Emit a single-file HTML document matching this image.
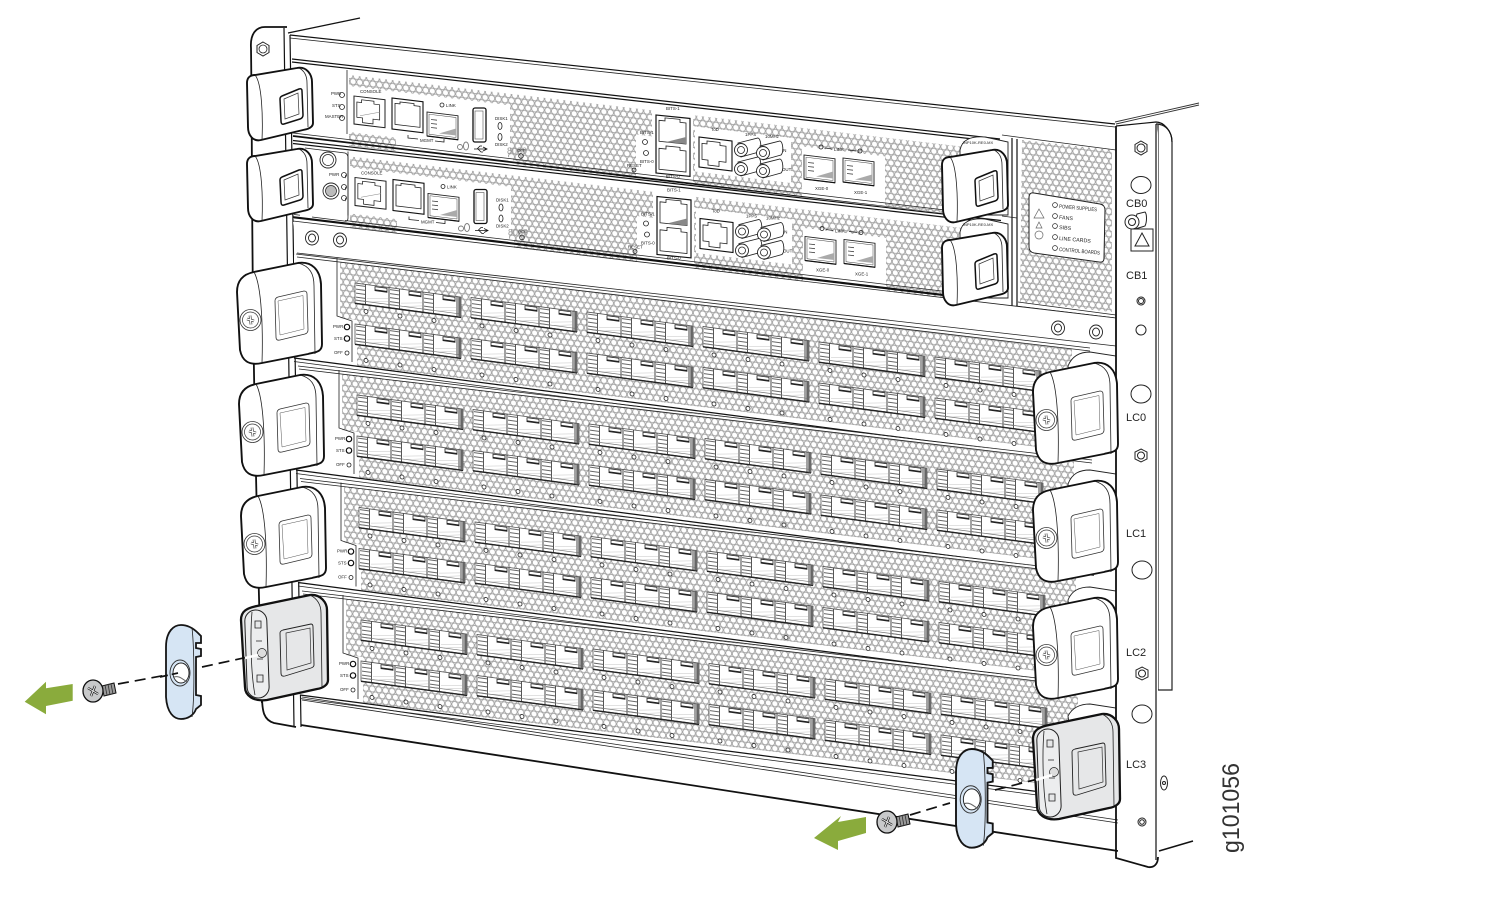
<!DOCTYPE html>
<html><head><meta charset="utf-8"><style>
html,body{margin:0;padding:0;background:#fff}
svg{display:block}
text{font-family:"Liberation Sans",sans-serif;fill:#222}
.t{font-size:4.4px}
.n{font-size:11px;fill:#222}
.l{fill:none;stroke:#222;stroke-width:.8}
.d{fill:none;stroke:#111;stroke-width:1.8}
.m{fill:none;stroke:#111;stroke-width:1.2}
.g{fill:none;stroke:#777;stroke-width:.7}
.w{fill:#fff;stroke:none}
</style></head><body>
<svg xmlns="http://www.w3.org/2000/svg" width="1501" height="901" viewBox="0 0 1501 901">
<defs>
<pattern id="hc" width="6.6" height="11.2" patternUnits="userSpaceOnUse" patternTransform="matrix(1,.12,0,1,0,0)">
<rect width="6.6" height="11.2" fill="#fff"/>
<g fill="none" stroke="#a2a2a2" stroke-width=".85">
<circle cx="0" cy="0" r="3"/><circle cx="6.6" cy="0" r="3"/><circle cx="3.3" cy="5.6" r="3"/><circle cx="0" cy="11.2" r="3"/><circle cx="6.6" cy="11.2" r="3"/>
</g></pattern>

<g id="port">
<path d="M1,2H10M1,6H10M1,10H10M1,14H10M1,17H10" stroke="#666" stroke-width="1" fill="none"/>
<path d="M10.500,0V20" stroke="#444" stroke-width=".9"/>
<path d="M20,1H32V5H20Z" fill="#fff" stroke="#222" stroke-width=".8"/>
<path d="M20,4.300H32" stroke="#222" stroke-width="1.200"/>
<path d="M12,14L33,11M15,17L33,14" stroke="#c4c4c4" stroke-width=".5"/>
<path d="M34,0V20" stroke="#444" stroke-width="1"/>
</g>
<g id="pg">
<rect x="0" y="0" width="106" height="20" fill="#fff" stroke="#555" stroke-width=".8"/>
<use href="#port"/><use href="#port" x="34"/><use href="#port" x="68"/>
<path d="M0,17H104" stroke="#777" stroke-width=".7"/>
<path d="M0,20.300H106" stroke="#222" stroke-width="1.400"/>
<path d="M104.500,0V20" stroke="#666" stroke-width="2.400"/>
</g>
<g id="cs"><circle cx="0" cy="0" r="2" fill="#fff" stroke="#222" stroke-width=".8"/></g>
<g id="gup"><use href="#pg"/><use href="#cs" x="11" y="27"/><use href="#cs" x="45" y="27"/><use href="#cs" x="79" y="27"/></g>
<g id="glo"><use href="#pg"/><use href="#cs" x="11" y="35"/><use href="#cs" x="45" y="35"/><use href="#cs" x="79" y="35"/></g>
<g id="pair"><use href="#gup"/><use href="#glo" y="41"/></g>

<g id="card">
<path d="M294,255L1095,349L1095,458L1040,458L294,358Z" fill="#fff"/>
<path d="M340,262L1072,349V451L357,366V320L340,318Z" fill="url(#hc)"/>
<path class="l" d="M296,254L1090,348M297,257L1090,351"/>
<path class="l" d="M337,258V316L352,321V362"/>
<path class="m" d="M294,358L1050,457"/>
<path class="l" d="M294,361.500L1050,460.500"/>
<g transform="matrix(1,.133,0,1,355,283)"><use href="#pair"/></g>
<g transform="matrix(1,.133,0,1,471,297.500)"><use href="#pair"/></g>
<g transform="matrix(1,.133,0,1,587,312)"><use href="#pair"/></g>
<g transform="matrix(1,.133,0,1,703,326.500)"><use href="#pair"/></g>
<g transform="matrix(1,.133,0,1,819,342)"><use href="#pair"/></g>
<g transform="matrix(1,.133,0,1,935,357)"><use href="#pair"/></g>
<text class="t" x="333" y="328">PWR</text><circle cx="347" cy="327" r="2.700" class="m" fill="#fff"/>
<text class="t" x="334" y="340">STS</text><circle cx="347" cy="338.500" r="2.700" class="m" fill="#fff"/>
<text class="t" x="334" y="354">OFF</text><circle cx="347" cy="353" r="2" class="l" fill="#fff"/>
</g>

<g id="hl">
<path d="M1,30C1,18 8,12 18,10L62,1C76,-1 84,8 85,22L86,82C86,90 80,90 72,92L26,101C12,104 6,98 4,88Z" fill="#fff" stroke="#111" stroke-width="1.900"/>
<path class="l" d="M18,10C26,24 27,70 26,101M62,1C74,4 78,12 78,24L79,92" stroke-width=".7"/>
<path d="M42,35L68,29Q71,29 71,32L72,68Q72,71 69,72L44,78Q40,79 40,75L39,39Q39,36 42,35Z" fill="#fff" stroke="#333" stroke-width=".8"/>
<path d="M42,39L67,33.500L68,67L44,73Z" fill="none" stroke="#555" stroke-width=".5"/>
<circle cx="14.500" cy="58" r="10.500" fill="#fff" stroke="#333" stroke-width=".8"/>
<circle cx="14.500" cy="58" r="8" fill="#fff" stroke="#333" stroke-width=".7"/>
<path d="M11,57L18,59M14,53.500L15,62.500" stroke="#333" stroke-width="2.600"/>
<path d="M11,57L18,59M14,53.500L15,62.500" stroke="#fff" stroke-width="1.300"/>
</g>

<g id="hs">
<path d="M0,16C0,10 4,8 8,8L50,1C60,-1 65,8 65,15L66,56C66,60 62,62 56,63L14,73C6,75 1,68 1,60Z" fill="#fff" stroke="#111" stroke-width="1.900"/>
<path class="l" d="M8,8C15,16 16,50 15,73M52,1C58,4 60,10 60,16L61,60"/>
<path d="M35,29L52,22Q55,21 55,24L56,48Q56,51 53,52L37,57Q34,58 34,54L33,32Q33,30 35,29Z" fill="#fff" stroke="#111" stroke-width="1.500"/>
<path d="M37,32L51,26L52,47L38,52Z" fill="#fff" stroke="#333" stroke-width=".7"/>
</g>

<g id="hg">
<path d="M0,25C0,16 6,13 16,11L69,0C80,-1 86,8 86,15L87,85C87,90 82,93 76,94L26,105C12,107 4,100 4,92Z" fill="#e6e7e8" stroke="#111" stroke-width="2.300"/>
<path class="l" d="M69,0C77,4 80,10 80,18L81,92"/>
<rect x="5" y="15" width="22" height="88" rx="11" ry="11" fill="#ecedee" stroke="#222" stroke-width="1" transform="rotate(-2 16 60)"/>
<path class="l" d="M11,17C9,40 10,80 14,100"/>
<path d="M14,26H20V33H14ZM15,46H21M16,64H22M16,80H22V87H16Z" fill="#e6e7e8" stroke="#222" stroke-width=".8"/>
<circle cx="21" cy="58" r="4.500" fill="#ddd" stroke="#222" stroke-width=".7"/>
<path d="M42,35L70,29Q72,29 72,32L73,70Q73,72 70,73L44,81Q40,82 40,78L39,38Q39,36 42,35Z" fill="#e6e7e8" stroke="#222" stroke-width=".9"/>
<path d="M45,38L69,33L70,68L46,75Z" fill="#e6e7e8" stroke="#333" stroke-width=".7"/>
</g>

<g id="cv">
<path d="M0,22C0,6 8,0 15,0C22,0 28,4 32,8L35,11V18H30V23L35,24V31L30,32V70L35,71V80L30,84C28,90 22,94 15,94C8,94 1,88 0,72Z" fill="#d6e5f4" stroke="#151515" stroke-width="1.800"/>
<path class="l" d="M26,3C28,20 29,70 26,92"/>
<ellipse cx="14" cy="48" rx="10" ry="13" fill="#d6e5f4" stroke="#333" stroke-width=".9"/>
<ellipse cx="15" cy="48" rx="8" ry="10" fill="#fff" stroke="#222" stroke-width=".9"/>
<path d="M8,52C14,50 18,56 22,57" stroke="#666" fill="none" stroke-width="1"/>
</g>

<g id="sc">
<path d="M12,-4L24,-7L26,3L14,6Z" fill="#999" stroke="#111" stroke-width="1"/>
<path d="M15,-5L17,5M18,-6L20,5M21,-6L23,4" stroke="#333" stroke-width=".8"/>
<ellipse cx="3" cy="1" rx="10" ry="11" fill="#c8c9ca" stroke="#111" stroke-width="1.300"/>
<path d="M-2,-2L8,4M5,-4L1,6" stroke="#222" stroke-width="2.400"/>
<path d="M-2,-2L8,4M5,-4L1,6" stroke="#eee" stroke-width="1"/>
</g>

<g id="rj"><path class="l" d="M3,6H8V3H21V6H27V22H20V27H9V22H3Z" fill="#fff"/></g>
<g id="sfp"><rect width="31" height="24" fill="#fff" stroke="#222" stroke-width=".9"/><rect x="2" y="2" width="27" height="20" fill="#fff" stroke="#444" stroke-width=".5"/><path d="M4,7H10M4,11H10M4,15H10" stroke="#444" stroke-width=".8"/><path d="M12,20L29,13V20Z" fill="#aaa"/><path d="M0,24H31" stroke="#111" stroke-width="1.200"/></g>
<g id="bnc"><path d="M-8,-4L12,-9C15,-8 16,2 13,5L-5,10Z" fill="#fff" stroke="#222" stroke-width=".9"/><circle cx="-5" cy="3" r="6.500" fill="#fff" stroke="#222" stroke-width=".9"/><circle cx="-5" cy="3" r="3.500" fill="#fff" stroke="#222" stroke-width=".8"/></g>

<g id="cb">
<path d="M292,58L1000,138V222L293,137Z" fill="#fff"/>
<path d="M349,75L965,147V222L349,146Z" fill="url(#hc)"/>
<g transform="matrix(1,.12,0,1,-41.880,0)" fill="#fff" style="display:none"></g>
<g transform="matrix(1,.12,0,1,0,-41.880)" fill="#fff">
<rect x="349" y="86" width="161" height="46"/>
<rect x="396" y="130" width="112" height="18"/>
<rect x="505" y="138" width="8" height="10"/>
<rect x="636" y="100" width="20" height="48"/>
<rect x="652" y="70" width="41" height="78"/>
<rect x="695" y="85" width="96" height="45"/>
<rect x="802" y="92" width="83" height="56"/>
</g>
<path class="m" d="M292,59L1000,139M292,62L1000,142"/>
<path class="d" d="M293,136L945,214"/>
<path class="l" d="M293,133L945,210"/>
<path class="l" d="M347,70V134"/>
<text class="t" x="331" y="95">PWR</text><circle cx="342" cy="95" r="2.500" class="l" fill="#fff"/>
<text class="t" x="332" y="107">STS</text><circle cx="342" cy="107" r="2.500" class="l" fill="#fff"/>
<text class="t" x="325" y="118" font-size="3.500">MASTER</text><circle cx="342" cy="118" r="2.500" class="l" fill="#fff"/>
<text class="t" x="360" y="93">CONSOLE</text>
<g transform="matrix(1,.12,0,1,354,96)"><rect width="31" height="28" fill="#fff" stroke="#222" stroke-width="1"/><use href="#rj" transform="scale(.95)"/><path d="M6,19L26,13" stroke="#888" stroke-width=".5"/></g>
<g transform="matrix(1,.12,0,1,392,98)"><rect width="31" height="31" fill="#fff" stroke="#111" stroke-width="1.100"/><path class="l" d="M3,5H8V3H22V5H28V26H3Z"/></g>
<g transform="matrix(1,.12,0,1,427,112)"><use href="#sfp"/></g>
<circle cx="442" cy="105" r="2" class="l" fill="#fff"/><text class="t" x="446" y="107">LINK</text>
<path class="l" d="M408,135V138L418,139M435,141L444,142V139"/><text class="t" x="420" y="142">MGMT</text>
<g fill="none" stroke="#777" stroke-width=".9"><circle cx="460" cy="147" r="2.500"/><ellipse cx="466" cy="146" rx="2.500" ry="4"/></g>
<rect x="473" y="108" width="13" height="34" rx="2" fill="#fff" stroke="#111" stroke-width="1.300"/><rect x="475" y="111" width="8" height="28" fill="#fff" stroke="#555" stroke-width=".6"/>
<path d="M474,149H487M483,147L487,149L483,151M477,149L480,146H482M478,149L481,152H483" stroke="#111" fill="none" stroke-width=".8"/>
<text class="t" x="495" y="120">DISK1</text><ellipse cx="500" cy="126" rx="2" ry="3.500" class="l" fill="#fff"/>
<ellipse cx="500" cy="137" rx="2" ry="3.500" class="l" fill="#fff"/><text class="t" x="495" y="146">DISK2</text>
<text x="507" y="154" font-size="9" style="fill:#999">8080</text>
<text class="t" x="517" y="152">OFF</text><circle cx="521" cy="156" r="2.300" class="l" fill="#fff"/>

<text class="t" x="666" y="110">BITS-1</text><text class="t" x="640" y="134">BITS-1</text><text class="t" x="640" y="163">BITS-0</text>
<circle cx="645" cy="142" r="2.500" class="l" fill="#fff"/><circle cx="646" cy="153" r="2.500" class="l" fill="#fff"/>
<text class="t" x="627" y="167">RESET</text><circle cx="634" cy="170" r="2" class="l" fill="#fff"/>
<g transform="matrix(1,.1,0,1,656,115)"><rect width="34" height="58" fill="#fff" stroke="#111" stroke-width="1.200"/><path class="l" d="M3,5H9V2H24V5H30V26H3ZM3,33H10V30H24V33H30V54H3Z"/><path d="M10,26L30,19V26Z" fill="#888"/></g>
<text class="t" x="666" y="178">BITS-0</text>
<text class="t" x="711" y="131">ToD</text>
<g transform="matrix(1,.12,0,1,699,137)"><rect width="33" height="30" fill="#fff" stroke="#111" stroke-width="1.100"/><use href="#rj"/></g>
<text class="t" x="745" y="136">1PPS</text><text class="t" x="765" y="138">10MHz</text>
<use href="#bnc" x="746" y="147"/><use href="#bnc" x="768" y="150"/><use href="#bnc" x="746" y="166"/><use href="#bnc" x="768" y="168"/>
<text class="t" x="782" y="152">IN</text><text class="t" x="782" y="171">OUT</text>
<circle cx="821" cy="147" r="2" class="l" fill="#fff"/><path class="l" d="M825,148L832,149M848,150L856,151"/><text class="t" x="834" y="151">LINK</text><circle cx="860" cy="151" r="2" class="l" fill="#fff"/>
<g transform="matrix(1,.12,0,1,804,155)"><use href="#sfp"/></g>
<g transform="matrix(1,.12,0,1,843,158)"><use href="#sfp"/></g>
<text class="t" x="815" y="190">XGE-0</text><text class="t" x="854" y="194">XGE-1</text>
</g>
</defs>

<rect width="1501" height="901" fill="#fff"/>

<!-- rack body -->
<path d="M290,35L1116,124V850L300,724Z" fill="#fff"/>
<path class="m" d="M288,33L360,18" stroke-width="1.400"/>
<path class="m" d="M290,35L1115,124"/>
<path class="l" d="M290,38L1115,127"/>
<!-- left ear -->
<path d="M251,48C250,34 256,27 265,27H284L293,720L297,726L272,722C264,720 262,712 262,703Z" fill="#fff" stroke="none"/>
<path class="d" d="M262,703C250,300 253,200 251,48C250,34 256,27 265,27H287" stroke-width="1.500"/>
<path class="d" d="M262,695C262,712 264,720 274,723L296,727" stroke-width="1.500"/>
<path class="m" d="M284,28L294,726M290,35L301,727"/>
<path d="M263,42L269,45.500V52.500L263,56L257,52.500V45.500Z" fill="#fff" stroke="#222" stroke-width="1"/><circle cx="263" cy="49" r="4" fill="#fff" stroke="#222" stroke-width=".8"/>

<!-- bottom -->
<path class="d" d="M301,725L1118,851" stroke-width="2"/>
<path class="l" d="M302,697L1118,820M302,700L1118,823"/>

<!-- control boards -->
<use href="#cb"/>
<use href="#cb" x="1" y="81.500"/>
<path d="M1012,138V307" stroke="#111" stroke-width="1.200"/><path d="M1017,139V308" stroke="#111" stroke-width="1.200"/>
<path class="l" d="M1002,135L1116,150M1002,216L1017,218"/>
<path d="M1022,140L1112,150V312L1020,302Z" fill="url(#hc)"/>
<path class="l" d="M1018,302L1116,315M1016,306L1116,318"/>
<path d="M1034,193L1100,204Q1105,205 1105,210L1104,258Q1104,263 1099,262L1034,253Q1029,252 1029,247L1029,198Q1029,192 1034,193Z" fill="#fff" stroke="#222" stroke-width="1"/>
<g fill="#fff" stroke="#222" stroke-width=".7"><circle cx="1055" cy="205" r="2.400"/><circle cx="1055" cy="216" r="2.400"/><circle cx="1055" cy="226" r="2.400"/><circle cx="1055" cy="237" r="2.400"/><circle cx="1055" cy="248" r="2.400"/></g>
<g fill="none" stroke="#666" stroke-width=".7"><path d="M1039,209L1044,218H1034Z"/><path d="M1039,222L1042,228H1036Z"/><circle cx="1039" cy="235" r="4"/></g>
<g><text x="1059" y="208" transform="rotate(5 1059 208)" textLength="38" lengthAdjust="spacingAndGlyphs" style="font-size:5.300px">POWER SUPPLIES</text>
<text x="1059" y="219" transform="rotate(5 1059 219)" style="font-size:5.300px">FANS</text>
<text x="1059" y="229" transform="rotate(5 1059 229)" style="font-size:5.300px">SIBS</text>
<text x="1059" y="240" transform="rotate(5 1059 240)" style="font-size:5.300px">LINE CARDS</text>
<text x="1059" y="251" transform="rotate(5 1059 251)" textLength="41" lengthAdjust="spacingAndGlyphs" style="font-size:5.300px">CONTROL BOARDS</text></g>

<!-- strip between CB and LC -->
<path d="M293,222L1116,318V346L297,253Z" fill="#fff"/>
<path class="d" d="M293,217L945,295" stroke-width="1.800"/>
<path class="l" d="M293,221L1116,318M297,253L1116,346"/>
<g fill="#fff" stroke="#222" stroke-width=".9">
<ellipse cx="312" cy="238" rx="6.500" ry="7"/><ellipse cx="312" cy="238" rx="3.500" ry="4"/>
<ellipse cx="340" cy="240" rx="6.500" ry="7"/><ellipse cx="340" cy="240" rx="3.500" ry="4"/>
<ellipse cx="1058" cy="328" rx="6.500" ry="7"/><ellipse cx="1058" cy="328" rx="3.500" ry="4"/>
<ellipse cx="1096" cy="332" rx="6.500" ry="7"/><ellipse cx="1096" cy="332" rx="3.500" ry="4"/>
</g>

<!-- line cards -->
<use href="#card"/>
<use href="#card" x="2" y="112"/>
<use href="#card" x="4" y="224.500"/>
<use href="#card" x="6" y="337"/>

<!-- right back plates -->
<path d="M1068,366C1072,356 1080,352 1090,352L1116,356V380L1070,380Z" fill="#fff" stroke="#222" stroke-width=".9"/>
<path d="M1068,484C1072,473 1080,470 1090,470L1116,474V500L1070,500Z" fill="#fff" stroke="#222" stroke-width=".9"/>
<path d="M1068,600C1072,590 1080,587 1090,587L1116,591V616L1070,616Z" fill="#fff" stroke="#222" stroke-width=".9"/>
<path d="M1068,716C1072,708 1080,704 1090,704L1116,708V730L1070,730Z" fill="#fff" stroke="#222" stroke-width=".9"/>

<!-- right ear -->
<path d="M1158,124H1156C1166,124 1172,132 1172,142V690H1158Z" fill="#fff" stroke="#222" stroke-width="1.200"/>
<path d="M1116,126L1152,123C1156,123 1158,128 1158,135V857C1158,864 1154,868 1148,867L1124,862L1118,858Z" fill="#fff"/>
<path class="d" d="M1116,126V858L1148,867C1154,868 1158,864 1158,857" stroke-width="1.700"/>
<path class="m" d="M1116,126L1156,122C1163,122 1172,130 1172,142"/>
<path class="m" d="M1156,124V860"/>
<path d="M1115,122L1199,103M1116,124L1199,105" stroke="#333" stroke-width=".9"/>
<path d="M1159,851L1193,841" stroke="#111" stroke-width="1.500"/>
<g fill="#fff" stroke="#222" stroke-width="1">
<path d="M1141,141L1147,144.500V151.500L1141,155L1135,151.500V144.500Z"/><circle cx="1141" cy="148" r="4"/>
<ellipse cx="1141" cy="185" rx="10" ry="8.500"/>
<path d="M1137,214L1145,212C1147,214 1147,222 1145,226L1132,230Z"/><circle cx="1132" cy="222" r="7"/><circle cx="1132" cy="222" r="3.500"/>
<rect x="1131" y="229" width="22" height="22"/><path d="M1142,233L1149,246H1135Z"/>
<circle cx="1141" cy="301" r="4"/><circle cx="1141" cy="301" r="2.500"/>
<circle cx="1141" cy="330" r="5"/>
<ellipse cx="1141" cy="394" rx="10" ry="9"/>
<path d="M1141,449L1147,452V459L1141,462L1135,459V452Z"/><circle cx="1141" cy="455.500" r="3.500"/>
<ellipse cx="1142" cy="570" rx="10" ry="9"/>
<path d="M1142,667L1148,670V677L1142,680L1136,677V670Z"/><circle cx="1142" cy="673.500" r="3.500"/>
<ellipse cx="1142" cy="714" rx="10" ry="9"/>
<ellipse cx="1164" cy="783" rx="3.500" ry="7"/><circle cx="1164" cy="783" r="1.500"/>
<circle cx="1142" cy="822" r="4"/><circle cx="1142" cy="822" r="2.300"/>
</g>
<text class="n" x="1126" y="207">CB0</text>
<text class="n" x="1126" y="279">CB1</text>
<text class="n" x="1126" y="421">LC0</text>
<text class="n" x="1126" y="537">LC1</text>
<text class="n" x="1126" y="656">LC2</text>
<text class="n" x="1126" y="768">LC3</text>

<!-- CB1 left fragment -->
<path d="M300,148L345,152V222L300,216Z" fill="#fff"/>
<path class="l" d="M305,148L345,153Q348,154 348,158V218Q348,222 344,221L312,217"/>
<circle cx="328" cy="160" r="8" fill="#fff" stroke="#222" stroke-width=".9"/><circle cx="328" cy="160" r="5.500" fill="#fff" stroke="#222" stroke-width=".7"/>
<circle cx="331" cy="191" r="8" fill="#fff" stroke="#222" stroke-width=".9"/><circle cx="331" cy="191" r="5.500" fill="#bbb" stroke="#222" stroke-width=".7"/>
<text class="t" x="329" y="176">PWR</text><circle cx="344" cy="175" r="2.500" class="l" fill="#fff"/>
<circle cx="344" cy="187" r="2.500" class="l" fill="#fff"/><circle cx="344" cy="198" r="2.500" class="l" fill="#fff"/>

<!-- handles -->
<use href="#hs" x="247" y="67"/>
<use href="#hs" x="247" y="148"/>
<path d="M960,150C962,140 970,136 985,137L1008,142V215H960Z" fill="#fff" stroke="#222" stroke-width=".9"/>
<path d="M960,232C962,222 970,218 985,219L1008,224V298H960Z" fill="#fff" stroke="#222" stroke-width=".9"/>
<text x="962" y="144" style="font-size:4px">JNP10K-RE0-MX</text>
<text x="962" y="226" style="font-size:4px">JNP10K-RE0-MX</text>
<g transform="translate(942,149)"><use href="#hs"/></g>
<g transform="translate(942,232)"><use href="#hs"/></g>

<use href="#hl" x="236" y="262"/>
<use href="#hl" x="238" y="374"/>
<use href="#hl" x="240" y="486"/>
<use href="#hl" x="1032" y="362"/>
<use href="#hl" x="1032" y="480"/>
<use href="#hl" x="1032" y="597"/>
<use href="#hg" x="241" y="595"/>
<use href="#hg" x="1033" y="714"/>

<!-- left removal -->
<path d="M118,684L172,674" stroke="#111" stroke-width="1.700" stroke-dasharray="11 6" fill="none"/>
<use href="#cv" x="166" y="625"/>
<path d="M160,677L178,673" stroke="#111" stroke-width="1.700" stroke-dasharray="8 4" fill="none"/>
<path d="M202,667L248,657" stroke="#111" stroke-width="1.700" stroke-dasharray="11 6" fill="none"/>
<path d="M245,658L258,655" stroke="#fff" stroke-width="2.500"/>
<use href="#sc" x="90" y="690"/>
<path d="M72.700,684L46,688.300V681.700L24.700,701.700L46,714.300V706L72.700,700.700Z" fill="#8aab3c"/>

<!-- right removal -->
<path d="M910,815L950,803" stroke="#111" stroke-width="1.700" stroke-dasharray="11 6" fill="none"/>
<path d="M995,790L1038,779" stroke="#111" stroke-width="1.700" stroke-dasharray="11 6" fill="none"/>
<path d="M1036,780L1052,775" stroke="#fff" stroke-width="2.500"/>
<g transform="translate(956,749) scale(1.050)"><use href="#cv"/></g>
<use href="#sc" x="884" y="821"/>
<path d="M866,817L838,822L841,816L814,838L838,850V841L866,833Z" fill="#8aab3c"/>

<text transform="translate(1239,853) rotate(-90)" x="0" y="0" textLength="90" lengthAdjust="spacingAndGlyphs" style="font-size:24px;fill:#333">g101056</text>
</svg>
</body></html>
